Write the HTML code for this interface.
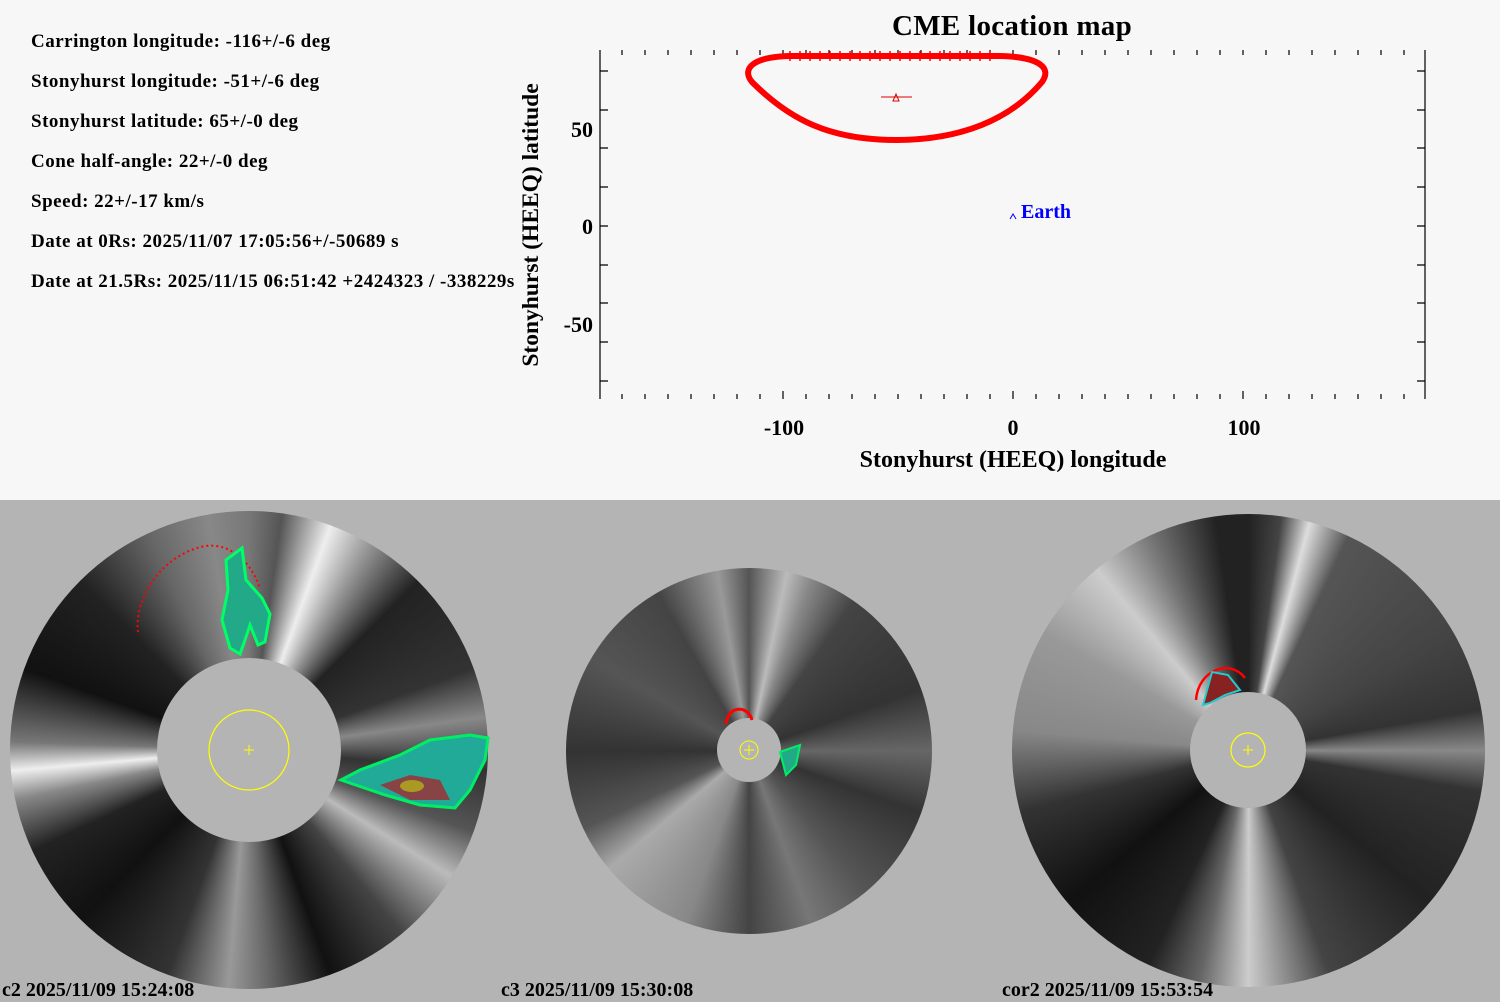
<!DOCTYPE html>
<html><head><style>
body{margin:0;width:1500px;height:1000px;overflow:hidden;background:#b4b4b4;font-family:"Liberation Serif",serif;}
#top{position:absolute;left:0;top:0;width:1500px;height:500px;background:#f7f7f7;}
.info{position:absolute;left:31px;font-weight:bold;font-size:19px;letter-spacing:0.5px;color:#000;white-space:nowrap;}
.disk{position:absolute;border-radius:50%;}
.lab{position:absolute;font-weight:bold;font-size:20px;top:979px;white-space:nowrap;}
</style></head><body>
<div id="top">
<div class="info" style="top:31px">Carrington longitude: -116+/-6 deg</div>
<div class="info" style="top:71px">Stonyhurst longitude: -51+/-6 deg</div>
<div class="info" style="top:111px">Stonyhurst latitude: 65+/-0 deg</div>
<div class="info" style="top:151px">Cone half-angle: 22+/-0 deg</div>
<div class="info" style="top:191px">Speed: 22+/-17 km/s</div>
<div class="info" style="top:231px">Date at 0Rs: 2025/11/07 17:05:56+/-50689 s</div>
<div class="info" style="top:271px">Date at 21.5Rs: 2025/11/15 06:51:42 +2424323 / -338229s</div>
</div>

<div class="disk" style="left:10px;top:511px;width:478px;height:478px;background:conic-gradient(from 0deg,#777 0deg,#555 8deg,#eee 20deg,#999 30deg,#222 45deg,#333 70deg,#888 82deg,#333 95deg,#555 110deg,#bbb 122deg,#444 140deg,#111 160deg,#666 175deg,#999 185deg,#333 200deg,#111 225deg,#222 245deg,#888 258deg,#eee 265deg,#777 272deg,#111 290deg,#222 315deg,#666 335deg,#888 350deg,#777 360deg);"></div>
<div class="disk" style="left:157px;top:658px;width:184px;height:184px;background:#b4b4b4"></div>

<div class="disk" style="left:566px;top:568px;width:366px;height:366px;background:conic-gradient(from 0deg,#555 0deg,#bbb 12deg,#888 20deg,#444 35deg,#333 70deg,#666 90deg,#333 110deg,#555 140deg,#777 160deg,#444 180deg,#888 200deg,#aaa 230deg,#555 245deg,#333 270deg,#555 300deg,#444 330deg,#999 350deg,#555 360deg);"></div>
<div class="disk" style="left:717px;top:718px;width:64px;height:64px;background:#b4b4b4"></div>

<div class="disk" style="left:1012px;top:514px;width:473px;height:473px;background:conic-gradient(from 0deg,#222 0deg,#444 8deg,#ddd 15deg,#555 25deg,#444 60deg,#333 80deg,#888 90deg,#333 100deg,#222 130deg,#444 160deg,#ccc 180deg,#666 192deg,#222 205deg,#111 230deg,#333 255deg,#888 275deg,#999 300deg,#ccc 320deg,#777 335deg,#222 352deg,#222 360deg);"></div>
<div class="disk" style="left:1190px;top:692px;width:116px;height:116px;background:#b4b4b4"></div>

<svg width="1500" height="1000" style="position:absolute;left:0;top:0" font-family="Liberation Serif,serif" font-weight="bold">
<text x="1012" y="35" font-size="29" letter-spacing="0.3" text-anchor="middle">CME location map</text>
<g stroke="#000" stroke-width="1.2">
<line x1="600" y1="50" x2="600" y2="399"/>
<line x1="1425" y1="50" x2="1425" y2="399"/>
<path d="M600 71h8M600 110h8M600 148h8M600 187h8M600 226h8M600 265h8M600 303h8M600 342h8M600 381h8M1425 71h-8M1425 110h-8M1425 148h-8M1425 187h-8M1425 226h-8M1425 265h-8M1425 303h-8M1425 342h-8M1425 381h-8"/>
<path d="M622 399v-5M645 399v-5M668 399v-5M691 399v-5M714 399v-5M737 399v-5M760 399v-5M783 399v-8M806 399v-5M829 399v-5M852 399v-5M875 399v-5M898 399v-5M921 399v-5M944 399v-5M967 399v-5M990 399v-5M1013 399v-8M1036 399v-5M1059 399v-5M1082 399v-5M1105 399v-5M1128 399v-5M1151 399v-5M1174 399v-5M1197 399v-5M1220 399v-5M1243 399v-8M1266 399v-5M1289 399v-5M1312 399v-5M1335 399v-5M1358 399v-5M1381 399v-5M1404 399v-5"/>
<path d="M622 50v5M645 50v5M668 50v5M691 50v5M714 50v5M737 50v5M760 50v5M783 50v5M806 50v5M829 50v5M852 50v5M875 50v5M898 50v5M921 50v5M944 50v5M967 50v5M990 50v5M1013 50v5M1036 50v5M1059 50v5M1082 50v5M1105 50v5M1128 50v5M1151 50v5M1174 50v5M1197 50v5M1220 50v5M1243 50v5M1266 50v5M1289 50v5M1312 50v5M1335 50v5M1358 50v5M1381 50v5M1404 50v5"/>
</g>
<text x="593" y="137" font-size="22" text-anchor="end">50</text>
<text x="593" y="234" font-size="22" text-anchor="end">0</text>
<text x="593" y="332" font-size="22" text-anchor="end">-50</text>
<text x="784" y="435" font-size="22" text-anchor="middle">-100</text>
<text x="1013" y="435" font-size="22" text-anchor="middle">0</text>
<text x="1244" y="435" font-size="22" text-anchor="middle">100</text>
<text x="1013" y="467" font-size="24" text-anchor="middle">Stonyhurst (HEEQ) longitude</text>
<text transform="translate(538,225) rotate(-90)" font-size="23.5" text-anchor="middle">Stonyhurst (HEEQ) latitude</text>
<path d="M790 56 L1000 56 C1040 57,1052 68,1042 82 C1010 120,960 140,896 140 C830 140,790 120,752 82 C742 70,750 57,790 56 Z" fill="none" stroke="#f00" stroke-width="6"/>
<path d="M790 51v10M800 51v10M810 51v10M820 51v10M830 51v10M840 51v10M850 51v10M860 51v10M870 51v10M880 51v10M890 51v10M900 51v10M910 51v10M920 51v10M930 51v10M940 51v10M950 51v10M960 51v10M970 51v10M980 51v10M990 51v10" stroke="#f00" stroke-width="1.5"/>
<line x1="881" y1="97" x2="912" y2="97" stroke="#d00" stroke-width="1"/>
<path d="M893 101 L896 94 L899 101 Z" fill="none" stroke="#d00"/>
<path d="M1010 219 L1013 214 L1016 219" fill="none" stroke="#00f"/>
<text x="1021" y="218" font-size="20" fill="#00f">Earth</text>
<circle cx="249" cy="750" r="40" fill="none" stroke="#ff0" stroke-width="1.2"/>
<path d="M244 750h10M249 745v10" stroke="#ff0"/>
<path d="M138 632 C134 600,160 555,205 546 C230 543,250 560,260 588" fill="none" stroke="#f00" stroke-width="2" stroke-dasharray="2 3"/>
<path d="M226 560 L242 548 L246 580 L262 598 L270 614 L265 642 L258 645 L250 625 L245 640 L240 654 L230 648 L222 620 L228 590 Z" fill="#2a8" stroke="#0f6" stroke-width="3"/>
<path d="M341 780 L360 770 L400 755 L430 740 L470 735 L488 738 L485 760 L470 790 L455 808 L420 805 L385 795 Z" fill="#2a9" stroke="#0e6" stroke-width="3"/>
<path d="M380 785 L410 775 L440 780 L450 800 L410 800 Z" fill="#844"/>
<ellipse cx="412" cy="786" rx="12" ry="6" fill="#a92"/>
<circle cx="749" cy="750" r="9" fill="none" stroke="#ff0"/>
<path d="M744 750h10M749 745v10" stroke="#ff0"/>
<path d="M726 724 C728 705,748 705,752 720" fill="none" stroke="#f00" stroke-width="3"/>
<path d="M780 752 L800 745 L796 765 L786 775 Z" fill="#2a8" stroke="#0e6" stroke-width="2"/>
<circle cx="1248" cy="750" r="17" fill="none" stroke="#ff0" stroke-width="1.2"/>
<path d="M1243 750h10M1248 745v10" stroke="#ff0"/>
<path d="M1196 700 C1198 670,1230 658,1245 678" fill="none" stroke="#f00" stroke-width="2.5"/>
<path d="M1203 705 L1212 672 L1228 675 L1240 690 L1225 695 L1210 703 Z" fill="#822" stroke="#2cc" stroke-width="2"/>
</svg>
<div class="lab" style="left:2px">c2 2025/11/09 15:24:08</div>
<div class="lab" style="left:501px">c3 2025/11/09 15:30:08</div>
<div class="lab" style="left:1002px">cor2 2025/11/09 15:53:54</div>
</body></html>
